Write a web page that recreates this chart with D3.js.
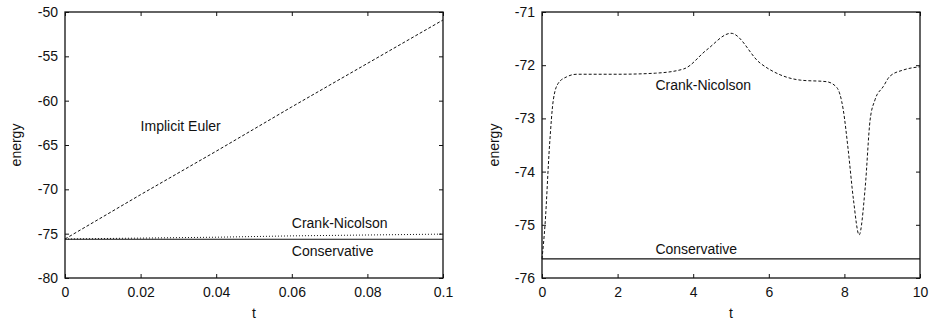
<!DOCTYPE html>
<html>
<head>
<meta charset="utf-8">
<script src="https://cdn.jsdelivr.net/npm/d3@7"></script>
<style>
  body { margin: 0; background: #fff; }
  text { font-family: "Liberation Sans", Arial, sans-serif; font-size: 14px; fill: #111; }
</style>
</head>
<body>
<svg id="chart" width="932" height="323"></svg>
<script>
// left panel: short run, t in [0, 0.1]
const leftT = [0, 0.02, 0.04, 0.06, 0.08, 0.1];
const eulerE = [-75.6, -70.6, -65.7, -60.7, -55.8, -50.9];
const crankLeftE = [-75.6, -75.5, -75.4, -75.25, -75.15, -75.05];
const conservLeftE = [-75.63, -75.63, -75.63, -75.63, -75.63, -75.63];
const leftXTicks = [0, 0.02, 0.04, 0.06, 0.08, 0.1];
const leftYTicks = [-80, -75, -70, -65, -60, -55, -50];

// right panel: long run, t in [0, 10]
const rightT = [0, 0.08, 0.2, 0.3, 0.43, 0.65, 0.92, 2, 3, 3.75, 4.36, 5.0, 5.77, 6.3, 6.83, 7.53, 7.8, 7.97, 8.1, 8.24, 8.39, 8.55, 8.68, 8.81, 9.03, 9.2, 9.56, 10];
const crankRightE = [-75.64, -75.0, -73.5, -72.65, -72.34, -72.22, -72.17, -72.17, -72.15, -72.07, -71.71, -71.40, -71.96, -72.18, -72.28, -72.31, -72.42, -72.84, -73.59, -74.53, -75.19, -74.3, -73.03, -72.65, -72.4, -72.21, -72.09, -72.03];
const conservRightT = [0, 10];
const conservRightE = [-75.64, -75.64];
const rightXTicks = [0, 2, 4, 6, 8, 10];
const rightYTicks = [-76, -75, -74, -73, -72, -71];

const svg = d3.select('#chart');
svg.append('rect').attr('width', 932).attr('height', 323).attr('fill', '#fff');

// 画一个面板
function drawPanel(opt) {
    let g = svg.append('g');
    let x = d3.scaleLinear().domain(opt.xDomain).range([opt.left, opt.right]);
    let y = d3.scaleLinear().domain(opt.yDomain).range([opt.bottom, opt.top]);

    // 刻度 (gnuplot 风格, 朝内, 四边都有)
    g.append('g')
        .attr('transform', 'translate(0,' + opt.bottom + ')')
        .call(d3.axisBottom(x).tickValues(opt.xTicks).tickSize(-4).tickPadding(9).tickFormat(d => String(d)))
        .call(a => a.select('.domain').remove());
    g.append('g')
        .attr('transform', 'translate(0,' + opt.top + ')')
        .call(d3.axisTop(x).tickValues(opt.xTicks).tickSize(-4).tickFormat(''))
        .call(a => a.select('.domain').remove());
    g.append('g')
        .attr('transform', 'translate(' + opt.left + ',0)')
        .call(d3.axisLeft(y).tickValues(opt.yTicks).tickSize(-4).tickPadding(7).tickFormat(d => String(d)))
        .call(a => a.select('.domain').remove());
    g.append('g')
        .attr('transform', 'translate(' + opt.right + ',0)')
        .call(d3.axisRight(y).tickValues(opt.yTicks).tickSize(-4).tickFormat(''))
        .call(a => a.select('.domain').remove());
    g.selectAll('.tick line').attr('stroke', '#111');
    g.selectAll('.tick text').attr('font-size', 14).attr('font-family', '"Liberation Sans", Arial, sans-serif').attr('fill', '#111');

    let line = d3.line().x(d => x(d[0])).y(d => y(d[1]));
    opt.series.forEach(function (s) {
        g.append('path')
            .datum(s.t.map((t, i) => [t, s.e[i]]))
            .attr('d', line.curve(s.curve || d3.curveLinear))
            .attr('fill', 'none')
            .attr('stroke', '#111')
            .attr('stroke-width', s.width || 1)
            .attr('stroke-dasharray', s.dash || null);
    });

    // 边框
    g.append('rect')
        .attr('x', opt.left).attr('y', opt.top)
        .attr('width', opt.right - opt.left).attr('height', opt.bottom - opt.top)
        .attr('fill', 'none').attr('stroke', '#111').attr('stroke-width', 1.3);

    opt.labels.forEach(function (l) {
        g.append('text').attr('x', x(l.t)).attr('y', y(l.e)).text(l.text);
    });

    g.append('text')
        .attr('x', (opt.left + opt.right) / 2).attr('y', 318)
        .attr('text-anchor', 'middle').text('t');
    g.append('text')
        .attr('transform', 'translate(' + opt.yLabelX + ',' + ((opt.top + opt.bottom) / 2) + ') rotate(-90)')
        .attr('text-anchor', 'middle').text('energy');
}

drawPanel({
    left: 65, right: 443, top: 12, bottom: 278, yLabelX: 21,
    xDomain: [0, 0.1], yDomain: [-80, -50],
    xTicks: leftXTicks, yTicks: leftYTicks,
    series: [
        {t: leftT, e: eulerE, dash: '3,2'},
        {t: leftT, e: crankLeftE, dash: '1,2'},
        {t: leftT, e: conservLeftE, width: 1.2}
    ],
    labels: [
        {t: 0.02, e: -63.4, text: 'Implicit Euler'},
        {t: 0.06, e: -74.4, text: 'Crank-Nicolson'},
        {t: 0.06, e: -77.5, text: 'Conservative'}
    ]
});

drawPanel({
    left: 542, right: 920, top: 12, bottom: 278, yLabelX: 499,
    xDomain: [0, 10], yDomain: [-76, -71],
    xTicks: rightXTicks, yTicks: rightYTicks,
    series: [
        {t: rightT, e: crankRightE, dash: '3,2', curve: d3.curveMonotoneX},
        {t: conservRightT, e: conservRightE, width: 1.2}
    ],
    labels: [
        {t: 3.0, e: -72.47, text: 'Crank-Nicolson'},
        {t: 3.0, e: -75.55, text: 'Conservative'}
    ]
});
</script>
</body>
</html>
